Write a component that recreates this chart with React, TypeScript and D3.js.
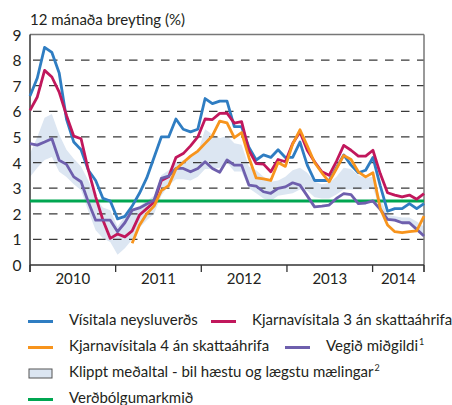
import React from "react";
import * as d3 from "d3";

// Monthly observations, Jan 2010 - Jul 2014
const cpi = [
  6.6, 7.3, 8.5, 8.3, 7.5, 5.7, 4.8, 4.5, 3.7, 3.3, 2.6, 2.5,
  1.8, 1.9, 2.3, 2.8, 3.4, 4.2, 5.0, 5.0, 5.7, 5.3, 5.2, 5.3,
  6.5, 6.3, 6.4, 6.4, 5.4, 5.4, 4.6, 4.1, 4.3, 4.2, 4.5, 4.2,
  4.2, 4.8, 3.9, 3.3, 3.3, 3.3, 3.8, 4.3, 3.9, 3.6, 3.7, 4.2,
  3.1, 2.1, 2.2, 2.2, 2.4, 2.2, 2.4,
];
const core3 = [
  6.04, 6.56, 7.6, 7.34, 6.75, 5.84, 5.03, 4.93, 3.7, 2.66, 1.75, 1.04,
  1.21, 1.1, 1.33, 1.95, 2.2, 2.45, 3.3, 3.45, 4.2, 4.35, 4.65, 5.0,
  5.7, 5.68, 5.92, 5.93, 5.54, 5.6, 4.48, 3.96, 3.94, 3.64, 4.12, 4.03,
  4.74, 5.19, 4.48, 4.03, 3.64, 3.5, 4.05, 4.67, 4.48, 4.25, 4.25, 4.48,
  3.57, 2.82, 2.73, 2.66, 2.73, 2.57, 2.79,
];
const core4 = [
  null, null, null, null, null, null, null, null, null, null, null, null,
  null, null, 0.85, 1.55, 2.0, 2.3, 2.9, 3.1, 3.75, 4.0, 4.25, 4.45,
  4.75, 5.05, 5.62, 5.55, 4.97, 5.17, 4.2, 3.4, 3.36, 3.3, 4.0, 3.85,
  4.72, 5.28, 4.65, 4.0, 3.6, 3.25, 3.76, 4.28, 4.12, 3.64, 3.44, 3.6,
  2.21, 1.56, 1.3, 1.26, 1.3, 1.33, 1.91,
];
const median = [
  4.74, 4.68, 4.8, 4.93, 4.09, 3.93, 3.44, 3.25, 2.45, 1.75, 1.75, 1.75,
  1.3, 1.65, 2.14, 2.23, 2.38, 2.53, 3.38, 3.47, 3.77, 3.77, 3.64, 3.77,
  4.03, 3.77, 3.62, 4.1, 3.9, 3.9, 3.12, 3.08, 2.86, 2.8, 2.99, 3.05,
  3.21, 3.12, 2.7, 2.27, 2.3, 2.34, 2.6, 2.79, 2.75, 2.4, 2.42, 2.5,
  2.17, 1.78, 1.75, 1.65, 1.65, 1.39, 1.13,
];
const trimHigh = [
  4.35, 5.0, 5.75, 5.9, 5.1, 4.5, 4.15, 3.85, 3.3, 2.6, 2.25, 2.14,
  1.5, 1.9, 2.2, 2.3, 2.5, 2.7, 3.5, 3.7, 4.0, 4.1, 4.2, 4.4,
  5.3, 5.1, 4.95, 5.05, 4.75, 4.7, 3.85, 3.7, 3.45, 3.25, 3.3, 3.45,
  3.7, 3.8, 3.6, 3.25, 3.15, 3.2, 3.45, 3.8, 3.75, 3.5, 3.4, 3.45,
  2.6, 1.95, 1.9, 1.85, 1.85, 1.7, 1.5,
];
const trimLow = [
  3.44, 3.8, 4.1, 4.22, 3.64, 3.44, 3.15, 2.92, 2.1, 1.36, 1.04, 0.9,
  0.4, 0.65, 1.0, 1.45, 1.75, 2.0, 2.7, 3.1, 3.35, 3.35, 3.3, 3.45,
  3.75, 3.75, 3.8, 4.0, 3.65, 3.65, 3.0, 2.8, 2.6, 2.5, 2.7, 2.75,
  2.8, 2.95, 2.9, 2.65, 2.6, 2.6, 2.75, 2.95, 2.95, 2.95, 2.95, 3.0,
  2.2, 1.75, 1.7, 1.65, 1.6, 1.4, 1.2,
];
const inflationTarget = 2.5;
const yTicks = [0, 1, 2, 3, 4, 5, 6, 7, 8, 9];
const years = [2010, 2011, 2012, 2013, 2014];

const FONT = "Lato, 'Open Sans', sans-serif";
const TXT = "#231f20";

export default function App() {
  const left = 30, right = 424, top = 34.5, bottom = 265;
  const x = d3.scaleLinear().domain([0, cpi.length - 1]).range([left, right]);
  const y = d3.scaleLinear().domain([0, 9]).range([bottom, top]);
  const yr = d3.scaleLinear().domain([2010, 2014.6]).range([left, right]);

  const line = d3
    .line<number | null>()
    .defined((d) => d != null)
    .x((_, i) => x(i))
    .y((d) => y(d as number));

  const band = d3
    .area<number>()
    .x((_, i) => x(i))
    .y0((_, i) => y(trimLow[i]))
    .y1((d) => y(d));

  const tickPos = [...years, 2014.6];

  const legendRows = [
    { y: 321.5, items: [
      { x: 28, type: "line", color: "#2f7dc2", label: "Vísitala neysluverðs", sup: "" },
      { x: 211, type: "line", color: "#c1175c", label: "Kjarnavísitala 3 án skattaáhrifa", sup: "" },
    ] },
    { y: 347.5, items: [
      { x: 28, type: "line", color: "#f7941d", label: "Kjarnavísitala 4 án skattaáhrifa", sup: "" },
      { x: 285, type: "line", color: "#6e5fad", label: "Vegið miðgildi", sup: "1" },
    ] },
    { y: 373.5, items: [
      { x: 28, type: "box", color: "#dce6f2", label: "Klippt meðaltal - bil hæstu og lægstu mælingar", sup: "2" },
    ] },
    { y: 399.5, items: [
      { x: 28, type: "line", color: "#00a651", label: "Verðbólgumarkmið", sup: "" },
    ] },
  ];

  return (
    <svg
      width={452}
      height={405}
      style={{ position: "absolute", left: 0, top: 0, background: "#fff" }}
      fontFamily={FONT}
    >
      <text x={30} y={25} fontSize={15} fill={TXT}>
        12 mánaða breyting (%)
      </text>

      <path d={band(trimHigh) ?? ""} fill="#dce6f2" stroke="none" />

      {yTicks.filter((t) => t > 0 && t < 9).map((t) => (
        <line
          key={t}
          x1={left + 3}
          x2={right}
          y1={y(t)}
          y2={y(t)}
          stroke="#3a3a3a"
          strokeWidth={1.3}
          strokeDasharray="8.5 7.5"
        />
      ))}

      {/* frame */}
      <line x1={left} x2={right} y1={top} y2={top} stroke="#777" strokeWidth={1.5} />
      <line x1={right} x2={right} y1={top} y2={bottom + 7} stroke="#777" strokeWidth={1.5} />
      <line x1={left} x2={left} y1={top} y2={bottom + 7} stroke="#333" strokeWidth={1.5} />
      <line x1={left} x2={right} y1={bottom} y2={bottom} stroke="#333" strokeWidth={1.5} />

      {yTicks.map((t) => (
        <text key={t} x={17} y={y(t)} fontSize={15.5} fill={TXT} textAnchor="middle" dominantBaseline="central">
          {t}
        </text>
      ))}

      {tickPos.map((t) => (
        <line key={t} x1={yr(t)} x2={yr(t)} y1={bottom} y2={bottom + 7} stroke="#333" strokeWidth={1.3} />
      ))}
      {years.map((t, i) => (
        <text
          key={t}
          x={(yr(t) + yr(tickPos[i + 1])) / 2}
          y={284}
          fontSize={15}
          fill={TXT}
          textAnchor="middle"
        >
          {t}
        </text>
      ))}

      <line
        x1={left}
        x2={right}
        y1={y(inflationTarget)}
        y2={y(inflationTarget)}
        stroke="#00a651"
        strokeWidth={3}
      />

      <path d={line(cpi) ?? ""} fill="none" stroke="#2f7dc2" strokeWidth={2.8} strokeLinejoin="round" />
      <path d={line(core3) ?? ""} fill="none" stroke="#c1175c" strokeWidth={2.8} strokeLinejoin="round" />
      <path d={line(median) ?? ""} fill="none" stroke="#6e5fad" strokeWidth={2.8} strokeLinejoin="round" />
      <path d={line(core4) ?? ""} fill="none" stroke="#f7941d" strokeWidth={2.8} strokeLinejoin="round" />

      {legendRows.map((row, ri) =>
        row.items.map((it, ii) => (
          <g key={`${ri}-${ii}`}>
            {it.type === "line" ? (
              <line x1={it.x} x2={it.x + 25} y1={row.y} y2={row.y} stroke={it.color} strokeWidth={3} />
            ) : (
              <rect x={it.x + 1} y={row.y - 4.5} width={23} height={9} fill={it.color} stroke="#555" strokeWidth={1} />
            )}
            <text x={it.x + 41} y={row.y + 3.5} fontSize={15} fill={TXT}>
              {it.label}
              {it.sup && (
                <tspan fontSize={9} dx={1} dy={-6}>
                  {it.sup}
                </tspan>
              )}
            </text>
          </g>
        ))
      )}
    </svg>
  );
}
